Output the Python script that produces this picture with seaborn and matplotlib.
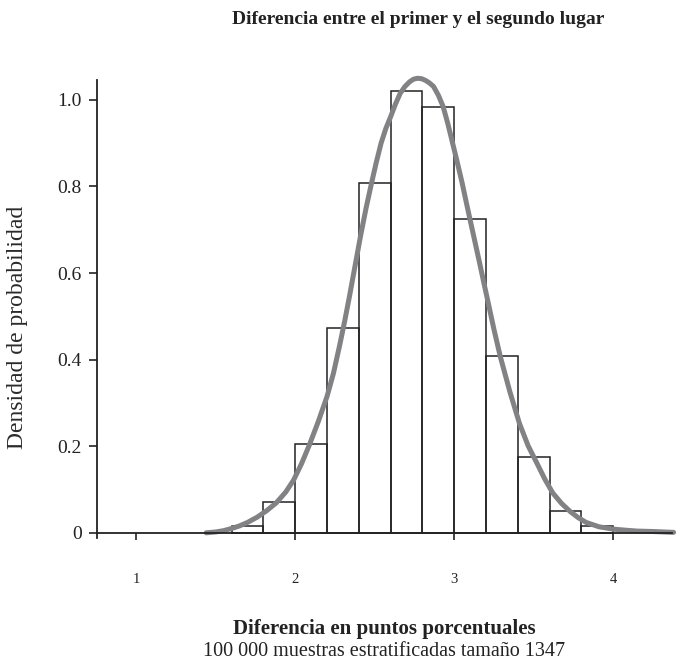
import matplotlib
matplotlib.use("Agg")
import matplotlib.pyplot as plt
import seaborn as sns
import numpy as np
import pandas as pd

# ---- data ----
bin_edges = [1.6, 1.8, 2.0, 2.2, 2.4, 2.6, 2.8, 3.0, 3.2, 3.4, 3.6, 3.8, 4.0]
bin_heights = [0.016, 0.071, 0.205, 0.474, 0.809, 1.021, 0.983, 0.724, 0.409, 0.175, 0.0515, 0.015]

curve_x = [1.44, 1.50, 1.55, 1.60, 1.65, 1.70, 1.76, 1.82, 1.88, 1.94, 1.99, 2.04, 2.09,
           2.145, 2.20, 2.24, 2.28, 2.31, 2.34, 2.375, 2.41, 2.445, 2.48, 2.51, 2.54,
           2.57, 2.60, 2.63, 2.66, 2.69, 2.72, 2.745, 2.77, 2.795, 2.82, 2.845, 2.87,
           2.90, 2.93, 2.96, 2.99, 3.02, 3.05, 3.075, 3.10, 3.13, 3.16, 3.185, 3.21,
           3.25, 3.29, 3.35, 3.41, 3.465, 3.52, 3.57, 3.62, 3.675, 3.73, 3.78, 3.83,
           3.91, 4.00, 4.08, 4.15, 4.25, 4.38]
curve_y = [0.0, 0.002, 0.005, 0.010, 0.016, 0.024, 0.036, 0.051, 0.069, 0.094, 0.122, 0.160, 0.204,
           0.257, 0.315, 0.368, 0.434, 0.487, 0.544, 0.614, 0.684, 0.749, 0.808, 0.856, 0.900,
           0.934, 0.961, 0.990, 1.015, 1.031, 1.042, 1.048, 1.050, 1.049, 1.045, 1.039, 1.031,
           1.011, 0.985, 0.945, 0.900, 0.855, 0.808, 0.765, 0.723, 0.673, 0.623, 0.580, 0.538,
           0.470, 0.407, 0.326, 0.253, 0.201, 0.161, 0.124, 0.092, 0.068, 0.049, 0.035, 0.024,
           0.014, 0.0085, 0.006, 0.004, 0.003, 0.001]

x_ticks = [1, 2, 3, 4]
y_ticks = [0, 0.2, 0.4, 0.6, 0.8, 1.0]
y_tick_labels = ["0", "0.2", "0.4", "0.6", "0.8", "1.0"]

title = "Diferencia entre el primer y el segundo lugar"
xlabel = "Diferencia en puntos porcentuales"
subtitle = "100 000 muestras estratificadas tamaño 1347"
ylabel = "Densidad de probabilidad"

# ---- plotting ----
sns.set_theme(style="white")
plt.rcParams["font.family"] = ["Liberation Serif", "DejaVu Serif"]

fig = plt.figure(figsize=(6.93, 6.61), dpi=100)
ax = fig.add_axes([97/693, (661-538)/661, (672-97)/693, (538-80)/661])

centers = [(bin_edges[i] + bin_edges[i+1]) / 2 for i in range(len(bin_heights))]
hist_df = pd.DataFrame({"x": centers, "w": bin_heights})
sns.histplot(data=hist_df, x="x", weights="w", bins=bin_edges, stat="count",
             fill=False, color="#222222", linewidth=1.1, ax=ax)

curve_df = pd.DataFrame({"x": curve_x, "y": curve_y})
sns.lineplot(data=curve_df, x="x", y="y", color="#828285", linewidth=3.6, ax=ax,
             solid_capstyle="round", solid_joinstyle="round", clip_on=False)

ax.set_xlim(0.753, 4.37)
ax.set_ylim(-0.012, 1.046)
ax.spines["top"].set_visible(False)
ax.spines["right"].set_visible(False)
ax.spines["bottom"].set_position(("data", 0))
for s in ["left", "bottom"]:
    ax.spines[s].set_color("#222222")
    ax.spines[s].set_linewidth(1.3)

ax.set_xticks(x_ticks)
ax.set_xticklabels([str(t) for t in x_ticks], fontsize=10.5)
ax.set_yticks(y_ticks)
ax.set_yticklabels(y_tick_labels, fontsize=14)
ax.tick_params(axis="x", bottom=True, direction="out", length=5, width=1.2, color="#222222",
               pad=24, labelcolor="#222222")
ax.tick_params(axis="y", left=True, direction="out", length=6, width=1.2, color="#222222",
               pad=5, labelcolor="#222222")
ax.set_xlabel("")
ax.set_ylabel("")

fig.text(18/693, 1 - 327/661, ylabel, ha="center", va="center", rotation=90,
         fontsize=17, color="#2a2a2a")
fig.text(418/693, 1 - 19/661, title, ha="center", va="center",
         fontsize=14, fontweight="bold", color="#222222")
fig.text(384/693, 1 - 629/661, xlabel, ha="center", va="center",
         fontsize=15, fontweight="bold", color="#222222")
fig.text(384/693, 1 - 651/661, subtitle, ha="center", va="center",
         fontsize=14.5, color="#222222")

fig.savefig("out.png", dpi=100, facecolor="white")
